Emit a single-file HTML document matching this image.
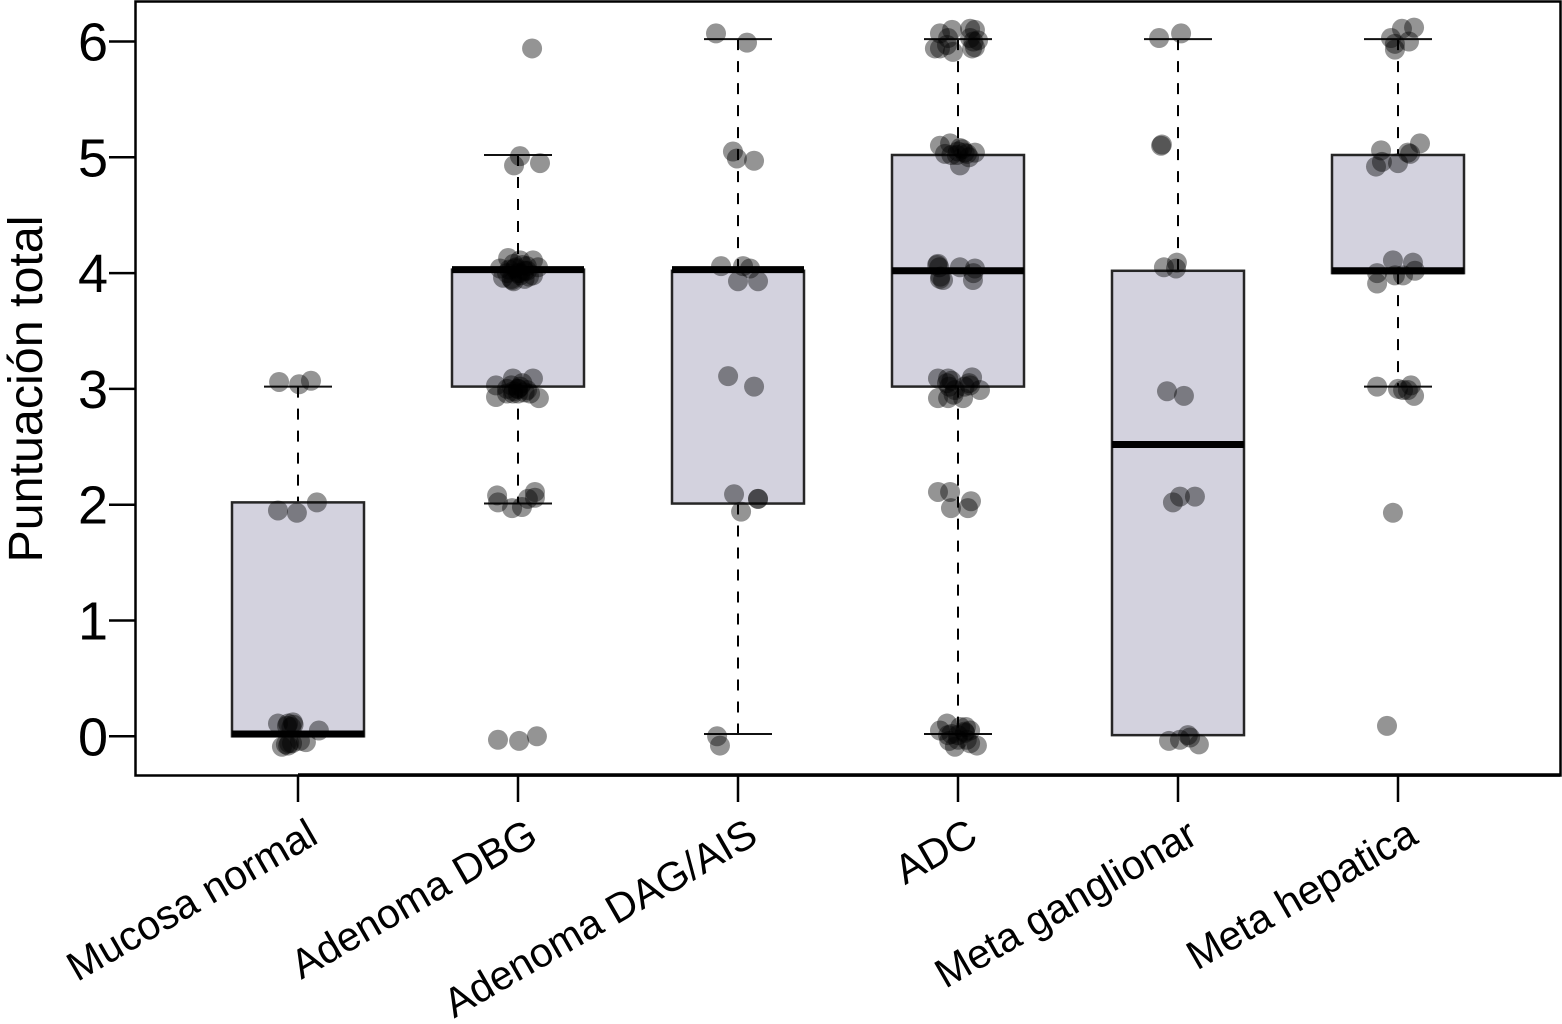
<!DOCTYPE html>
<html lang="es">
<head>
<meta charset="utf-8">
<title>Puntuación total</title>
<style>
html,body{margin:0;padding:0;background:#fff;width:1562px;height:1024px;overflow:hidden}
svg{display:block}
text{font-family:"Liberation Sans",Arial,sans-serif;fill:#000}
</style>
</head>
<body>
<svg id="chart" width="1562" height="1024" viewBox="0 0 1562 1024"></svg>
<script>
const categories = ["Mucosa normal","Adenoma DBG","Adenoma DAG/AIS","ADC","Meta ganglionar","Meta hepatica"];
const yTicks = [0,1,2,3,4,5,6];
const yTitle = "Puntuación total";

const whiskerLow  = [null,2.01,0.02,0.02,null,3.02];
const q1          = [0.0,3.02,2.01,3.02,0.01,4.0];
const medians     = [0.02,4.03,4.03,4.02,2.52,4.02];
const q3          = [2.02,4.03,4.02,5.02,4.02,5.02];
const whiskerHigh = [3.02,5.02,6.02,6.02,6.02,6.02];

const pointCat0 = [-0.086,0.005,0.059,-0.091,-0.005,0.086,-0.091,-0.045,-0.023,0.095,-0.073,-0.045,-0.027,0.036,0.009,-0.05,-0.03,-0.055,-0.04,-0.02];
const pointVal0 = [3.06,3.04,3.07,1.95,1.93,2.02,0.11,0.11,0.12,0.05,-0.09,-0.08,-0.06,-0.05,-0.04,0.09,0.08,-0.07,-0.06,0.1];

const pointCat1 = [0.064,0.009,-0.018,0.1,-0.082,-0.045,0.009,0.068,-0.068,-0.027,0.009,0.068,0.041,-0.014,0.091,-0.1,-0.023,0.068,-0.1,-0.05,0,0.041,0,0.095,-0.023,0.055,-0.095,-0.091,0.077,0.045,-0.027,0.018,0.077,-0.091,0.005,0.086,-0.05,-0.03,-0.01,0.01,0.03,0.05,-0.04,0,0.02,0.04,-0.02,0.03,-0.02,-0.05,-0.02,0.01,0.03,-0.03,0.02,0];
const pointVal1 = [5.94,5.01,4.93,4.95,4.04,4.13,4.11,4.11,3.96,3.94,4.0,3.98,4.02,4.04,4.05,3.03,3.09,3.09,2.93,2.96,3.0,2.99,2.96,2.92,2.96,2.96,2.08,2.02,2.11,2.05,1.97,1.98,2.06,-0.03,-0.04,0.0,4.0,3.95,4.05,3.98,4.02,3.97,4.03,4.0,4.07,4.06,3.93,3.95,4.08,3.0,2.98,3.02,2.97,3.03,3.05,3.0];

const pointCat2 = [-0.1,0.041,-0.023,-0.005,0.073,-0.077,0.023,0.055,0,0.091,-0.045,0.073,-0.018,0.091,0.091,0.014,-0.082,-0.095];
const pointVal2 = [6.07,5.99,5.05,4.99,4.97,4.06,4.06,4.04,3.93,3.93,3.11,3.02,2.09,2.05,2.05,1.94,-0.08,0.0];

const pointCat3 = [-0.082,-0.027,0.055,0.077,0.091,-0.105,-0.082,-0.023,0.064,0.077,0.055,-0.045,-0.082,-0.036,0.009,0.077,-0.059,-0.005,0.041,0.009,-0.091,-0.082,0.009,0.077,0.068,-0.068,-0.095,-0.091,-0.045,0.064,0.1,-0.091,-0.045,0.023,-0.014,0.055,-0.091,-0.036,0.059,0.045,-0.032,0.036,-0.082,-0.05,0.055,0.086,-0.014,0.055,-0.045,0,0.032,0.07,-0.05,0,0.03,0.05,-0.03,0.02,-0.085,-0.08,0.07,-0.05,-0.03,0.03,0.05,-0.02,-0.04,-0.03,0,0.03,-0.04,0.04,0.01];
const pointVal3 = [6.07,6.1,6.11,6.1,6.01,5.94,5.94,5.91,5.94,5.95,6.03,6.03,5.1,5.12,5.08,5.04,5.03,5.02,5.03,4.93,4.08,3.95,4.05,4.04,3.94,3.94,4.07,3.09,3.09,3.1,2.99,2.92,2.92,2.92,2.99,3.03,2.11,2.11,2.03,1.97,1.97,0.08,0.05,0.11,0.05,-0.08,-0.09,-0.06,0.01,0.01,0.03,6.0,5.97,5.05,5.04,5.0,5.02,5.07,4.05,3.97,4.0,3.05,3.07,3.02,3.05,2.95,3.02,0.02,-0.03,0.04,-0.04,-0.03,0.08];

const pointCat4 = [-0.086,0.014,-0.077,-0.073,-0.064,-0.009,-0.005,-0.05,0.027,-0.023,0.009,0.077,-0.041,0.009,0.055,0.045,0.095];
const pointVal4 = [6.03,6.07,5.1,5.11,4.05,4.04,4.09,2.98,2.94,2.02,2.07,2.07,-0.04,-0.03,-0.01,0.01,-0.07];

const pointCat5 = [-0.032,0.018,0.073,0.05,-0.014,-0.014,-0.077,-0.1,0,0.045,0.1,-0.073,0.055,-0.023,0.068,-0.095,-0.095,-0.014,0.023,0.077,-0.095,0,0.059,0.023,0.045,0.073,-0.023,-0.05];
const pointVal5 = [6.03,6.11,6.12,6.0,5.93,5.98,5.06,4.92,4.95,5.04,5.12,4.96,5.03,4.11,4.09,4.0,3.91,3.98,3.98,4.02,3.02,3.0,3.03,2.99,2.99,2.94,1.93,0.09];

const pointCats = [pointCat0,pointCat1,pointCat2,pointCat3,pointCat4,pointCat5];
const pointVals = [pointVal0,pointVal1,pointVal2,pointVal3,pointVal4,pointVal5];

const X0 = 298, XSTEP = 220.0, Y0 = 736.3, YUNIT = 115.8;
function xScale(c){ return X0 + XSTEP * c; }
function yScale(v){ return Y0 - YUNIT * v; }

const svg = document.getElementById('chart');
const NS = 'http://www.w3.org/2000/svg';
function make(tag, attrs){
  const el = document.createElementNS(NS, tag);
  for (const k in attrs) el.setAttribute(k, attrs[k]);
  svg.appendChild(el);
  return el;
}
const BOX_HALF = 66, CAP_HALF = 34;

categories.forEach(function(cat, i){
  const cx = xScale(i);
  if (whiskerHigh[i] !== null) {
    const wh = make('line',{x1:cx,x2:cx,y1:yScale(whiskerHigh[i]),y2:yScale(q3[i]),stroke:'#000','stroke-width':2,'stroke-dasharray':'11 11'});
    
    
    const ch = make('line',{x1:cx-CAP_HALF,x2:cx+CAP_HALF,y1:yScale(whiskerHigh[i]),y2:yScale(whiskerHigh[i]),stroke:'#111','stroke-width':2});
    
    
  }
  if (whiskerLow[i] !== null) {
    const wl = make('line',{x1:cx,x2:cx,y1:yScale(q1[i]),y2:yScale(whiskerLow[i]),stroke:'#000','stroke-width':2,'stroke-dasharray':'11 11'});
    
    
    const cl = make('line',{x1:cx-CAP_HALF,x2:cx+CAP_HALF,y1:yScale(whiskerLow[i]),y2:yScale(whiskerLow[i]),stroke:'#111','stroke-width':2});
    
    
  }
  const box = make('rect',{x:cx-BOX_HALF,y:yScale(q3[i]),width:BOX_HALF*2,height:yScale(q1[i])-yScale(q3[i]),fill:'#d3d2de',stroke:'#262626','stroke-width':2.5});
  
  
  const med = make('line',{x1:cx-BOX_HALF,x2:cx+BOX_HALF,y1:yScale(medians[i]),y2:yScale(medians[i]),stroke:'#000','stroke-width':7});
  
  
});

pointCats.forEach(function(list, i){
  list.forEach(function(off, j){
    const p = make('circle',{cx:xScale(i+off),cy:yScale(pointVals[i][j]),r:10,fill:'#000','fill-opacity':0.42});
    
    
  });
});

const frame = make('path',{d:'M135.5 775.5 V1.5 H1560.5 V775.5 Z',fill:'none',stroke:'#000','stroke-width':2.5});


const xAxisLine = make('line',{x1:298,x2:1560,y1:775,y2:775,stroke:'#000','stroke-width':3.5});



yTicks.forEach(function(t){
  const y = yScale(t);
  const tk = make('line',{x1:109,x2:135,y1:y,y2:y,stroke:'#000','stroke-width':2.5});
  
  
  const lb = make('text',{x:108,y:y+19,'text-anchor':'end','font-size':54});
  lb.textContent = String(t);
  
  
});

categories.forEach(function(cat, i){
  const cx = xScale(i);
  const tk = make('line',{x1:cx,x2:cx,y1:775,y2:802,stroke:'#000','stroke-width':2.5});
  
  
  const lx = cx + 22, ly = 842;
  const lb = make('text',{x:lx,y:ly,'text-anchor':'end','font-size':41,transform:'rotate(-30 '+lx+' '+ly+')'});
  lb.textContent = cat;
  
  
});

const title = make('text',{x:42,y:389,'text-anchor':'middle','font-size':48.4,transform:'rotate(-90 42 389)'});
title.textContent = yTitle;


</script>
</body>
</html>
